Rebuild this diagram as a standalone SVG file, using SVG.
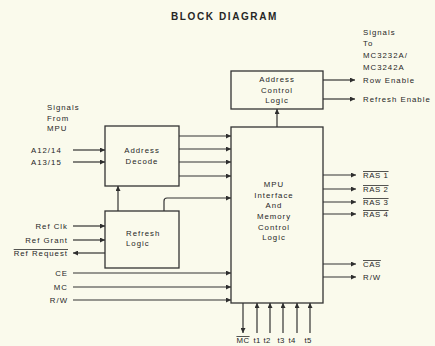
<svg xmlns="http://www.w3.org/2000/svg" width="435" height="346" viewBox="0 0 435 346">
<defs>
<marker id="ah" viewBox="0 0 10 10" refX="10" refY="5" markerWidth="8" markerHeight="5" markerUnits="userSpaceOnUse" orient="auto">
<path d="M0,0 L10,5 L0,10 z" fill="#2e2e2e"/>
</marker>
<style>
.box{fill:none;stroke:#333;stroke-width:1.3}
.ln{fill:none;stroke:#333;stroke-width:1.2;marker-end:url(#ah)}
text{font-family:"Liberation Sans",Arial,sans-serif;font-size:7.8px;letter-spacing:1px;fill:#262626}
.t{font-size:10px;font-weight:bold;letter-spacing:1.6px}
.m{text-anchor:middle}
.e{text-anchor:end}
.ov{text-decoration:overline}
</style>
</defs>
<rect width="435" height="346" fill="#fafaec"/>
<text class="t" x="171" y="20">BLOCK DIAGRAM</text>

<g id="signals-from-mpu">
<text x="47" y="110">Signals</text>
<text x="47" y="121">From</text>
<text x="47" y="131">MPU</text>
</g>
<g id="signals-to">
<text x="363" y="35">Signals</text>
<text x="363" y="46">To</text>
<text x="363" y="58">MC3232A/</text>
<text x="363" y="70">MC3242A</text>
</g>

<g id="address-decode">
<rect class="box" x="105" y="126" width="74" height="60"/>
<text class="m" x="142" y="153">Address</text>
<text class="m" x="142" y="164">Decode</text>
</g>
<g id="refresh-logic">
<rect class="box" x="105" y="211" width="74" height="57"/>
<text x="126" y="236">Refresh</text>
<text x="126" y="246">Logic</text>
</g>
<g id="address-control-logic">
<rect class="box" x="231" y="71" width="92" height="38"/>
<text class="m" x="277" y="82">Address</text>
<text class="m" x="277" y="93">Control</text>
<text class="m" x="277" y="103">Logic</text>
</g>
<g id="mpu-interface">
<rect class="box" x="231" y="127" width="92" height="176"/>
<text class="m" x="274" y="187">MPU</text>
<text class="m" x="274" y="198">Interface</text>
<text class="m" x="274" y="208">And</text>
<text class="m" x="274" y="219">Memory</text>
<text class="m" x="274" y="230">Control</text>
<text class="m" x="274" y="240">Logic</text>
</g>

<g id="labels-left">
<text x="31" y="153">A12/14</text>
<text x="31" y="165">A13/15</text>
<text class="e" x="68" y="229">Ref Clk</text>
<text class="e" x="68" y="243">Ref Grant</text>
<text class="e ov" x="68" y="256">Ref Request</text>
<text class="e" x="68" y="276">CE</text>
<text class="e" x="68" y="290">MC</text>
<text class="e" x="68" y="303">R/W</text>
</g>
<g id="labels-right">
<text x="363" y="83">Row Enable</text>
<text x="363" y="102">Refresh Enable</text>
<text class="ov" x="363" y="178" style="letter-spacing:0.6px">RAS 1</text>
<text class="ov" x="363" y="192" style="letter-spacing:0.6px">RAS 2</text>
<text class="ov" x="363" y="205" style="letter-spacing:0.6px">RAS 3</text>
<text class="ov" x="363" y="217" style="letter-spacing:0.6px">RAS 4</text>
<text class="ov" x="363" y="267" style="letter-spacing:0.6px">CAS</text>
<text x="363" y="280">R/W</text>
</g>
<g id="labels-bottom">
<text class="m ov" x="243" y="343" style="letter-spacing:0.5px">MC</text>
<text class="m" x="257" y="343" style="letter-spacing:0.3px">t1</text>
<text class="m" x="267" y="343" style="letter-spacing:0.3px">t2</text>
<text class="m" x="281" y="343" style="letter-spacing:0.3px">t3</text>
<text class="m" x="292" y="343" style="letter-spacing:0.3px">t4</text>
<text class="m" x="308" y="343" style="letter-spacing:0.3px">t5</text>
</g>

<g id="connectors">
<line class="ln" x1="73" y1="150" x2="105" y2="150"/>
<line class="ln" x1="73" y1="162" x2="105" y2="162"/>
<line class="ln" x1="179" y1="136" x2="231" y2="136"/>
<line class="ln" x1="179" y1="149" x2="231" y2="149"/>
<line class="ln" x1="179" y1="162" x2="231" y2="162"/>
<line class="ln" x1="179" y1="176" x2="231" y2="176"/>
<line class="ln" x1="118" y1="211" x2="118" y2="186"/>
<path class="ln" d="M164,211 V201 Q164,198 167,198 H231"/>
<line class="ln" x1="73" y1="226" x2="105" y2="226"/>
<line class="ln" x1="73" y1="240" x2="105" y2="240"/>
<line class="ln" x1="105" y1="253" x2="73" y2="253"/>
<line class="ln" x1="73" y1="273" x2="231" y2="273"/>
<line class="ln" x1="73" y1="287" x2="231" y2="287"/>
<line class="ln" x1="73" y1="300" x2="231" y2="300"/>
<line class="ln" x1="277" y1="127" x2="277" y2="109"/>
<line class="ln" x1="323" y1="80" x2="355" y2="80"/>
<line class="ln" x1="323" y1="99" x2="355" y2="99"/>
<line class="ln" x1="323" y1="175" x2="356" y2="175"/>
<line class="ln" x1="323" y1="189" x2="356" y2="189"/>
<line class="ln" x1="323" y1="202" x2="356" y2="202"/>
<line class="ln" x1="323" y1="214" x2="356" y2="214"/>
<line class="ln" x1="323" y1="264" x2="356" y2="264"/>
<line class="ln" x1="323" y1="277" x2="356" y2="277"/>
<line class="ln" x1="243" y1="303" x2="243" y2="333"/>
<line class="ln" x1="257" y1="333" x2="257" y2="303"/>
<line class="ln" x1="270" y1="333" x2="270" y2="303"/>
<line class="ln" x1="283" y1="333" x2="283" y2="303"/>
<line class="ln" x1="297" y1="333" x2="297" y2="303"/>
<line class="ln" x1="310" y1="333" x2="310" y2="303"/>
</g>
</svg>
